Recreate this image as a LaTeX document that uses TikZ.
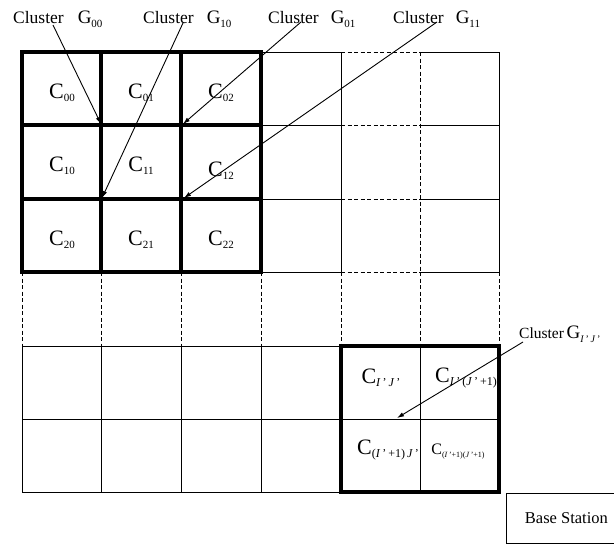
\documentclass[tikz,border=0pt]{standalone}
\usepackage{fontspec}
\setmainfont{Liberation Serif}
\usetikzlibrary{arrows.meta}
\newcommand{\idx}[2][-3pt]{\raisebox{#1}{\fontsize{11}{11}\selectfont #2}}
\newcommand{\pidx}[2][-3pt]{\raisebox{#1}{\fontsize{12}{12}\selectfont #2}}

\begin{document}
\begin{tikzpicture}[x=1pt,y=-1pt,
    gridline/.style={line width=0.8pt},
    gapline/.style={line width=0.8pt,dash pattern=on 4pt off 2.5pt},
    heavy/.style={line width=3.4pt,line cap=rect},
    lbl/.style={font=\fontsize{17.5}{20}\selectfont,inner sep=0pt},
    cellname/.style={font=\fontsize{22}{24}\selectfont,inner sep=0pt},
    pointer/.style={-{Latex[length=7pt,width=4.5pt]},line width=0.9pt}]
    \useasboundingbox (0,0) rectangle (614,544);
    % upper band, columns right of the first cluster
    \foreach \y in {52,125,199,272} {
      \draw[gridline] (261,\y) -- (341,\y);
      \draw[gapline] (341,\y) -- (420,\y);
      \draw[gridline] (420,\y) -- (499,\y);
    }
    \foreach \x in {341,499} \draw[gridline] (\x,52) -- (\x,272);
    \draw[gapline] (420,52) -- (420,272);
    % the skipped row
    \foreach \x in {22,101,181,261,341,420,499} \draw[gapline] (\x,272) -- (\x,346);
    % lower band
    \foreach \y in {346,419,492} \draw[gridline] (22,\y) -- (341,\y);
    \foreach \x in {22,101,181,261} \draw[gridline] (\x,346) -- (\x,492);
    \draw[gridline] (420,346) -- (420,492);
    \draw[gridline] (341,419) -- (499,419);
    % clusters
    \draw[heavy] (22,52) rectangle (261,272);
    \foreach \x in {101,181} \draw[heavy] (\x,52) -- (\x,272);
    \foreach \y in {125,199} \draw[heavy] (22,\y) -- (261,\y);
    \draw[heavy] (341,346) rectangle (499,492);
    % cell names
    \foreach \r/\c/\xc/\yc in {0/0/62/93,0/1/141/93,0/2/221/93,
                               1/0/62/166,1/1/141/166,1/2/221/171,
                               2/0/62/240,2/1/141/240,2/2/221/240} {
      \node[cellname] (c\r\c) at (\xc,\yc) {C\idx{\r\c}};
    }
    \node[cellname] (cij) at (381,378) {C\pidx{\textit{I}\,'\,\textit{J}\,'}};
    \node[cellname] (cij1) at (466,378) {C\pidx{\textit{I}\,'\,(\textit{J}\,'\,+1)}};
    \node[cellname] (ci1j) at (388,450) {C\pidx{(\textit{I}\,'\,+1)\,\textit{J}\,'}};
    \node[font=\fontsize{16}{18}\selectfont,inner sep=0pt] (ci1j1) at (458,452)
      {C\raisebox{-3pt}{\fontsize{8}{8}\selectfont (\textit{I}\,'+1)(\textit{J}\,'+1)}};
    % cluster labels
    \node[lbl,anchor=base west] (g00) at (13,23) {Cluster\hspace{14pt}{\fontsize{19}{20}\selectfont G}\idx[-4pt]{00}};
    \node[lbl,anchor=base west] (g10) at (143,23) {Cluster\hspace{13pt}{\fontsize{19}{20}\selectfont G}\idx[-4pt]{10}};
    \node[lbl,anchor=base west] (g01) at (268,23) {Cluster\hspace{12pt}{\fontsize{19}{20}\selectfont G}\idx[-4pt]{01}};
    \node[lbl,anchor=base west] (g11) at (393,23) {Cluster\hspace{12pt}{\fontsize{19}{20}\selectfont G}\idx[-4pt]{11}};
    \node[lbl,anchor=base west,font=\fontsize{15.5}{18}\selectfont] (gij) at (519,338)
      {Cluster\,{\fontsize{19}{20}\selectfont G}\raisebox{-4pt}{\fontsize{10}{10}\selectfont\textit{I}\,'\,\textit{J}\,'}};
    % pointers
    \coordinate (s00) at (53,25);
    \coordinate (s10) at (183,23);
    \coordinate (s01) at (301,22);
    \coordinate (s11) at (437,22);
    \coordinate (sij) at (523,342);
    \coordinate (k11) at (101,124);
    \coordinate (k21) at (102,198);
    \coordinate (k12) at (183,124);
    \coordinate (k22) at (184,198);
    \coordinate (kij) at (397,418);
    \draw[pointer] (s00) -- (k11);
    \draw[pointer] (s10) -- (k21);
    \draw[pointer] (s01) -- (k12);
    \draw[pointer] (s11) -- (k22);
    \draw[pointer] (sij) -- (kij);
    % base station
    \node[draw,line width=0.8pt,minimum width=120pt,minimum height=50pt,anchor=north west,
      font=\fontsize{16.5}{18}\selectfont] (bs) at (506,493) {Base Station};
  \end{tikzpicture}
\end{document}
